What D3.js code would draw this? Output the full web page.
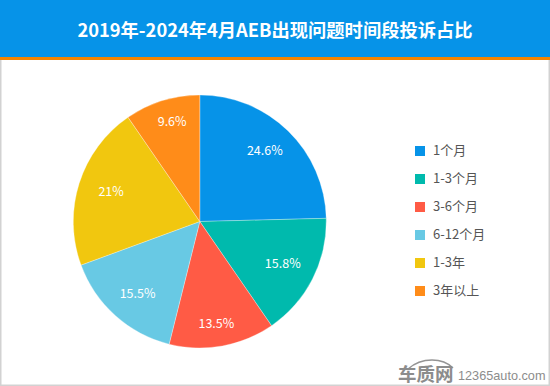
<!DOCTYPE html>
<html>
<head>
<meta charset="utf-8">
<script src="https://cdn.jsdelivr.net/npm/d3@7"></script>
<style>
    html, body { margin: 0; padding: 0; background: #fff; }
    svg { display: block; }
    text { font-family: "Noto Sans CJK SC", "Noto Sans", sans-serif; }
</style>
</head>
<body>
<svg id="chart" width="550" height="386"></svg>
<script>
const title = "2019年-2024年4月AEB出现问题时间段投诉占比";
const categories = ["1个月", "1-3个月", "3-6个月", "6-12个月", "1-3年", "3年以上"];
const values = [24.6, 15.8, 13.5, 15.5, 21, 9.6];
const colors = ["#0693e8", "#00baad", "#ff5b45", "#68c9e4", "#f1c70f", "#ff8c19"];

const svg = d3.select("#chart");
const width = 550;
const height = 386;

// Frame and header band
svg.append("rect")
    .attr("x", 0.75).attr("y", 0.75)
    .attr("width", width - 1.5).attr("height", height - 1.5)
    .attr("fill", "#fff").attr("stroke", "#d2d2d2").attr("stroke-width", 1.5);
svg.append("rect").attr("width", width).attr("height", 57).attr("fill", "#0693e8");
svg.append("rect").attr("y", 57).attr("width", width).attr("height", 3).attr("fill", "#f58400");
svg.append("text")
    .attr("x", width / 2).attr("y", 37)
    .attr("text-anchor", "middle")
    .attr("fill", "#fff")
    .attr("font-size", 18.3)
    .attr("font-weight", 700)
    .text(title);

// Pie
const radius = 126.5;
const labelRadius = 95;
const pie = d3.pie().sort(null);
const arc = d3.arc().innerRadius(0).outerRadius(radius);
const labelArc = d3.arc().innerRadius(labelRadius).outerRadius(labelRadius);
const color = d3.scaleOrdinal().domain(categories).range(colors);

const plot = svg.append("g").attr("transform", "translate(199.8,221.5)");
const arcs = pie(values);

plot.selectAll("path")
    .data(arcs)
    .join("path")
    .attr("d", arc)
    .attr("fill", (d, i) => color(categories[i]))
    .attr("stroke", "#fff")
    .attr("stroke-width", 0.3);

// Labels near the top and bottom of the pie sit further out than the rest
const labelPos = (d) => {
    const [x, y] = labelArc.centroid(d);
    const c = y / labelRadius;
    return [x * 0.98, y * (1 + 0.11 * c * c * c * c) + 1];
};

plot.selectAll("text")
    .data(arcs)
    .join("text")
    .attr("transform", (d) => `translate(${labelPos(d)})`)
    .attr("text-anchor", "middle")
    .attr("dy", "0.2em")
    .attr("fill", "#fff")
    .attr("font-size", 12.5)
    .text((d) => d.value + "%");

// Legend
const legendY = d3.scalePoint().domain(categories).range([151, 291]);
const legend = svg.selectAll(".legend")
    .data(categories)
    .join("g")
    .attr("class", "legend")
    .attr("transform", (d) => `translate(415,${legendY(d)})`);
legend.append("rect")
    .attr("y", -5).attr("width", 10).attr("height", 10)
    .attr("fill", (d) => color(d));
legend.append("text")
    .attr("x", 18).attr("dy", "0.28em")
    .attr("fill", "#555")
    .attr("font-size", 13)
    .text((d) => d);

// Watermark
svg.append("path")
    .attr("d", "M408,369 Q418,360 432,360 Q445,360 453,368")
    .attr("fill", "none")
    .attr("stroke", "#949494")
    .attr("stroke-width", 1.5);
svg.append("text")
    .attr("x", 398).attr("y", 381)
    .attr("fill", "#8c8c8c")
    .attr("font-size", 18.5)
    .attr("font-weight", 700)
    .text("车质网");
svg.append("text")
    .attr("x", 458).attr("y", 380)
    .attr("fill", "#8c8c8c")
    .attr("font-size", 12.7)
    .style("font-family", "Liberation Sans")
    .text("12365auto.com");
</script>
</body>
</html>
